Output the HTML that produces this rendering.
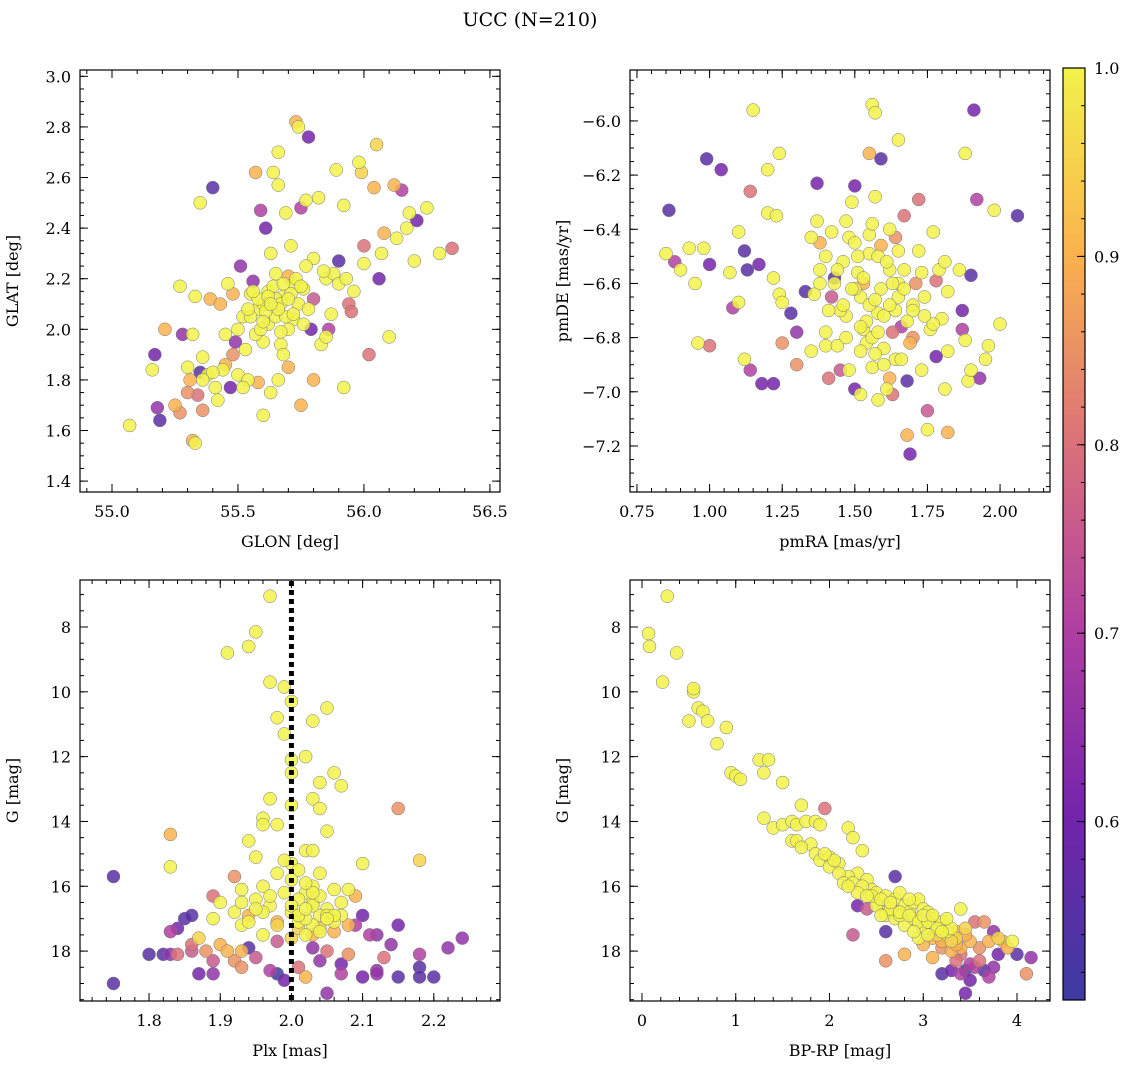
<!DOCTYPE html>
<html><head><meta charset="utf-8">
<style>
html,body{margin:0;padding:0;background:#fff;}
svg{display:block;font-family:"DejaVu Serif","Liberation Serif",serif;}
</style></head>
<body>
<svg id="fig" width="1136" height="1068" viewBox="0 0 1136 1068" xmlns="http://www.w3.org/2000/svg">
<defs>
<linearGradient id="cbg" x1="0" y1="1" x2="0" y2="0">
<stop offset="0" stop-color="#3d3ba0"/>
<stop offset="0.2" stop-color="#7424ab"/>
<stop offset="0.4" stop-color="#b03fa2"/>
<stop offset="0.6" stop-color="#da7279"/>
<stop offset="0.8" stop-color="#fab24e"/>
<stop offset="1" stop-color="#f2f24a"/>
</linearGradient>
</defs>
<text x="530" y="26" font-size="19" text-anchor="middle">UCC (N=210)</text>
</svg>
<script>
// ---- data (x, y, membership probability) ----
const glonVals=[55.07,55.16,55.17,55.18,55.19,55.21,55.25,55.27,55.27,55.28,55.3,55.31,55.32,55.32,55.33,55.33,55.34,55.35,55.35,55.36,55.36,55.38,55.39,55.4,55.41,55.42,55.44,55.45,55.46,55.47,55.48,55.49,55.5,55.51,55.52,55.53,55.54,55.55,55.56,55.57,55.58,55.58,55.59,55.6,55.6,55.61,55.62,55.63,55.64,55.65,55.66,55.66,55.67,55.68,55.69,55.7,55.71,55.72,55.73,55.74,55.75,55.75,55.76,55.77,55.78,55.79,55.8,55.8,55.82,55.83,55.85,55.86,55.87,55.89,55.9,55.92,55.92,55.94,55.98,55.99,56.0,56.0,56.02,56.04,56.05,56.06,56.08,56.1,56.12,56.15,56.17,56.18,56.2,56.21,56.25,56.3,56.35,55.55,55.6,55.65,55.7,55.72,55.68,55.62,55.74,55.57,55.78,55.66,55.7,55.88,55.95,55.43,55.48,55.63,55.52,
55.58,55.61,55.64,55.67,55.69,55.71,55.73,55.76,55.59,55.62,55.66,55.68,55.7,55.72,55.75,55.63,55.6,55.54,55.5,55.56,55.8,55.84,55.9,55.65,55.67,55.4,55.45,55.36,55.3,55.96,56.13,56.07,55.93,55.85,55.77];
const glatVals=[1.62,1.84,1.9,1.69,1.64,2.0,1.7,1.67,2.17,1.98,1.85,1.8,1.98,1.56,2.13,1.55,1.74,2.5,1.83,1.68,1.89,1.82,2.12,2.56,1.77,1.72,1.84,1.98,2.18,1.77,2.14,1.95,1.82,2.25,2.05,1.92,1.8,2.14,2.19,2.62,2.08,1.79,2.47,2.1,1.66,2.4,2.02,2.3,2.62,2.05,2.7,2.57,1.94,2.13,2.46,2.21,2.33,2.04,2.82,2.8,2.48,1.7,2.16,2.51,2.76,2.0,2.28,1.8,2.52,1.94,2.2,2.0,2.06,2.63,2.27,1.77,2.49,2.1,2.66,2.62,2.33,2.26,1.9,2.56,2.73,2.2,2.38,1.97,2.57,2.55,2.4,2.46,2.27,2.43,2.48,2.3,2.32,2.05,1.95,2.12,2.0,2.18,1.9,2.15,2.1,1.98,2.08,1.8,1.85,2.22,2.07,2.1,1.9,1.75,1.77,
2.12,2.07,2.17,2.1,2.05,2.14,2.2,2.02,2.0,2.13,2.08,2.18,2.12,2.06,2.17,2.1,2.03,2.08,2.0,2.15,2.12,2.23,2.18,2.22,1.99,1.83,1.86,1.8,1.75,2.15,2.36,2.3,2.2,1.97,2.25];
const glProb=[1,1,.6,.65,.55,.9,.9,.85,1,.65,1,.9,1,.9,1,1,.8,1,.55,.85,1,1,.9,.55,1,1,1,1,1,.6,.9,.65,1,.65,1,1,1,1,.65,.9,1,.9,.7,1,1,.6,1,1,1,1,1,1,1,1,1,.9,1,1,.9,1,.7,.9,1,1,.6,.6,1,.9,1,1,1,.7,1,1,.55,1,1,.8,1,.95,.8,1,.8,.9,.95,.6,.9,1,.9,.7,1,1,1,.6,1,1,.8,1,1,1,1,1,1,1,1,1,1,1,.9,1,.8,.9,.85,1,1,
1,1,1,1,1,1,1,1,1,1,1,1,1,1,1,1,1,1,1,1,.75,1,1,1,1,1,.9,1,.85,1,1,1,1,1,1];

const pmraVals=[0.86,0.85,0.88,0.9,0.93,0.95,0.96,0.98,0.99,1.0,1.0,1.04,1.07,1.08,1.1,1.1,1.12,1.12,1.13,1.14,1.14,1.15,1.17,1.18,1.2,1.2,1.22,1.22,1.23,1.24,1.24,1.25,1.25,1.28,1.3,1.3,1.33,1.35,1.37,1.37,1.38,1.38,1.4,1.4,1.41,1.42,1.42,1.43,1.44,1.45,1.46,1.47,1.47,1.48,1.49,1.5,1.5,1.51,1.52,1.52,1.53,1.53,1.54,1.55,1.55,1.56,1.56,1.57,1.57,1.58,1.58,1.59,1.59,1.6,1.61,1.62,1.62,1.63,1.63,1.64,1.64,1.65,1.65,1.66,1.67,1.67,1.68,1.68,1.69,1.7,1.7,1.71,1.72,1.73,1.74,1.75,1.75,1.76,1.77,1.78,1.78,1.79,1.8,1.81,1.81,1.82,1.82,1.82,1.86,1.87,1.87,1.88,1.88,1.89,1.9,1.9,1.91,1.92,1.93,1.95,1.96,1.98,2.0,2.06,1.55,1.5,1.6,1.65,1.45,1.58,1.7,1.52,1.66,1.43,1.48,1.62,1.35,1.4,1.72,1.77,
1.53,1.57,1.61,1.49,1.64,1.68,1.56,1.46,1.59,1.63,1.54,1.51,1.58,1.67,1.73,1.44,1.41,1.6,1.55,1.69,1.38,1.47,1.5,1.62,1.57,1.74,1.65,1.36,1.52,1.56];
const pmdeVals=[-6.33,-6.49,-6.52,-6.55,-6.47,-6.6,-6.82,-6.47,-6.14,-6.83,-6.53,-6.18,-6.56,-6.69,-6.41,-6.67,-6.48,-6.88,-6.55,-6.92,-6.26,-5.96,-6.53,-6.97,-6.18,-6.34,-6.97,-6.58,-6.35,-6.12,-6.64,-6.67,-6.82,-6.71,-6.9,-6.78,-6.63,-6.43,-6.23,-6.37,-6.6,-6.45,-6.83,-6.78,-6.95,-6.41,-6.65,-6.58,-6.83,-6.92,-6.52,-6.37,-6.72,-6.43,-6.3,-6.99,-6.24,-6.56,-6.65,-7.01,-6.6,-6.77,-6.82,-6.12,-6.49,-6.91,-5.94,-6.28,-5.97,-6.71,-7.03,-6.14,-6.62,-6.84,-6.99,-6.4,-6.55,-6.78,-7.01,-6.43,-6.88,-6.07,-6.65,-6.76,-6.35,-6.55,-7.16,-6.96,-7.23,-6.68,-6.8,-6.6,-6.29,-6.92,-6.65,-7.14,-7.07,-6.77,-6.41,-6.59,-6.87,-6.55,-6.73,-6.52,-6.99,-7.15,-6.85,-6.63,-6.55,-6.7,-6.77,-6.12,-6.81,-6.96,-6.92,-6.57,-5.96,-6.29,-6.95,-6.88,-6.83,-6.33,-6.75,-6.35,-6.68,-6.62,-6.72,-6.6,-6.7,-6.5,-6.7,-6.85,-6.88,-6.6,-6.92,-6.95,-6.85,-6.5,-6.48,-6.75,
-6.58,-6.66,-6.52,-6.62,-6.7,-6.74,-6.8,-6.68,-6.46,-6.6,-6.74,-6.5,-6.78,-6.62,-6.56,-6.55,-6.7,-6.9,-6.42,-6.82,-6.55,-6.8,-6.45,-6.68,-6.86,-6.72,-6.48,-6.64,-6.76,-6.38];
const pmProb=[.55,1,.7,1,1,1,1,1,.55,.8,.6,.6,1,.7,1,1,.55,1,.55,.7,.8,1,.6,.6,1,1,.6,1,1,1,1,1,.85,.55,.85,.65,.55,1,.6,1,1,.9,1,1,.8,1,.75,.55,1,.75,1,1,1,1,1,.6,.6,1,1,1,.9,1,1,.9,1,1,1,1,1,1,1,.55,1,1,1,1,1,.8,.8,.85,1,1,1,.7,.8,1,.9,.55,.6,1,.85,.85,.8,1,1,1,.75,1,1,.8,.6,1,1,1,1,.9,1,1,1,.6,.7,1,1,1,1,.55,.6,.7,.65,1,1,1,1,.55,1,1,1,1,1,1,1,1,1,1,1,.9,1,1,1,1,
1,1,1,1,1,1,1,1,.9,1,1,1,1,1,1,1,1,1,1,.9,1,1,1,1,1,1,1,1,1,1];

const plxVals=[1.97,1.91,1.94,1.95,1.97,1.99,1.98,2.0,1.99,2.05,2.03,2.0,2.02,2.0,2.04,2.06,2.07,2.03,1.97,2.04,2.0,1.96,1.96,1.98,2.05,1.94,2.02,2.03,1.83,1.83,2.18,2.15,2.1,1.95,2.0,2.01,2.04,1.98,1.92,1.93,1.96,2.06,2.02,2.08,2.09,1.89,1.9,1.95,1.97,2.03,2.05,1.92,1.94,2.0,2.04,2.07,2.01,1.98,1.93,1.89,2.03,2.06,1.96,2.0,2.02,2.1,2.11,2.12,2.14,2.15,1.87,1.84,1.83,1.86,1.86,1.84,1.8,1.82,1.83,1.85,1.87,1.89,1.89,1.88,1.9,1.91,1.92,1.93,1.94,1.95,1.97,1.98,1.98,1.99,2.01,2.02,2.03,2.04,2.05,2.05,2.07,2.07,2.08,2.1,2.12,2.12,2.13,2.15,2.18,2.18,2.18,2.2,2.22,2.24,1.75,1.75,1.86,1.93,2.09,
2.01,2.03,2.05,2.02,2.04,2.06,2.0,1.99,2.03,2.05,2.07,2.01,2.04,2.02,1.98,1.96,2.06,2.08,2.0,2.03,1.95,1.94,2.01,2.05,2.03,1.97,1.99,2.02,2.04,1.93];
const gPlxVals=[7.05,8.8,8.6,8.15,9.7,9.85,10.8,10.3,11.3,10.5,10.9,12.1,12.0,12.5,12.8,12.5,12.9,13.3,13.3,13.6,13.5,13.9,14.1,14.1,14.3,14.6,14.9,14.9,14.4,15.4,15.2,13.6,15.3,15.1,15.3,15.5,15.6,15.6,15.7,16.1,16.0,16.1,16.2,16.1,16.3,16.3,16.5,16.4,16.6,16.5,16.7,16.8,16.9,16.8,16.9,16.9,17.1,17.1,17.2,17.0,17.2,17.4,17.5,17.6,17.5,16.9,17.5,17.5,17.8,17.2,17.6,17.3,17.4,17.8,18.0,18.1,18.1,18.1,18.1,17.0,18.7,18.7,18.3,18.0,17.8,18.0,18.3,18.5,17.9,18.2,18.6,17.7,18.7,18.9,18.5,18.8,17.9,18.3,19.3,18.0,18.4,18.7,18.1,18.8,18.6,18.7,18.2,18.8,18.5,18.8,18.1,18.8,17.9,17.6,15.7,19.0,16.9,18.0,17.2,
16.4,16.6,16.9,17.0,17.3,17.1,16.6,16.2,16.0,17.0,16.5,16.9,16.3,16.7,17.2,16.8,16.9,17.2,15.8,16.2,16.7,17.1,17.3,17.0,17.5,16.3,15.2,15.9,17.4,16.5];
const plxProb=[1,1,1,1,1,1,1,1,1,1,1,1,1,1,1,1,1,1,1,1,1,1,1,1,1,1,1,1,.9,1,.95,.85,1,1,1,1,1,1,.85,1,1,1,1,1,.9,.8,1,1,1,1,1,1,.9,1,1,1,1,.9,1,1,1,.9,1,.95,1,.6,.7,.65,.65,.6,.95,.6,.7,.8,.75,.8,.55,.55,.65,.55,.6,.65,.75,.85,.9,.9,.85,.85,.55,.75,.7,.75,.5,.6,.8,.9,.65,.65,.65,.8,.6,.7,.85,.6,.65,.65,.8,.55,.55,.55,.7,.55,.65,.65,.55,.55,.55,.9,.7,
1,1,1,1,.95,1,1,1,1,1,1,1,1,1,.95,1,1,.9,1,1,1,1,.95,1,.9,1,1,1,1,1];

const bprpVals=[0.07,0.08,0.27,0.37,0.22,0.5,0.55,0.55,0.6,0.65,0.7,0.8,0.9,0.95,1.0,1.05,1.25,1.3,1.35,1.5,1.3,1.4,1.5,1.6,1.6,1.65,1.7,1.75,1.8,1.85,1.9,1.95,1.65,1.7,1.85,1.9,2.0,2.0,2.1,2.2,2.25,2.35,2.3,2.2,2.4,2.45,2.5,2.55,2.6,2.65,2.7,2.75,2.8,2.85,2.9,2.95,3.0,3.05,3.1,3.15,3.2,3.25,3.3,3.35,2.5,2.6,2.7,2.8,2.9,3.0,3.1,3.2,3.4,3.5,2.4,2.3,2.25,2.6,2.7,3.4,3.55,3.65,3.7,3.75,3.8,3.85,3.9,3.95,4.0,4.15,4.1,3.8,3.75,3.7,3.65,3.6,3.55,3.5,3.45,3.45,3.4,3.4,3.35,3.3,3.2,3.1,3.3,3.2,2.8,2.6,3.5,3.6,3.0,2.95,3.15,3.45,3.25,2.75,
2.1,2.15,2.25,2.35,2.45,2.55,2.65,2.75,2.85,2.95,3.05,3.15,3.25,3.35,2.55,2.65,2.85,3.0,3.1,3.2,3.3,2.05,1.95,2.3,2.4,2.9,3.05,3.35,3.45,2.2];
const gCmdVals=[8.2,8.6,7.05,8.8,9.7,10.9,10.0,9.9,10.5,10.6,10.9,11.6,11.1,12.5,12.6,12.7,12.1,12.5,12.1,12.8,13.9,14.2,14.1,14.0,14.6,14.1,13.5,14.0,14.7,14.0,14.1,13.6,14.6,14.8,15.0,15.2,15.1,15.4,15.3,14.2,14.5,14.9,15.6,15.7,15.8,16.1,16.2,16.5,16.3,16.6,16.4,16.2,16.6,16.8,16.5,16.4,16.7,16.8,17.0,17.2,17.1,17.4,17.3,17.6,16.6,16.9,17.0,17.2,17.0,17.3,17.6,17.7,17.9,17.7,16.7,16.6,17.5,17.4,15.7,16.7,17.1,17.1,17.7,17.4,17.6,17.7,17.9,17.7,18.1,18.2,18.7,18.1,18.5,18.8,18.6,18.3,18.5,18.9,19.3,18.6,18.7,18.1,18.3,18.6,18.7,18.2,18.0,17.9,18.1,18.3,18.4,17.9,17.8,17.6,17.5,17.3,17.0,16.9,
15.6,15.9,15.9,16.0,16.3,16.4,16.7,16.8,16.9,17.1,17.1,17.3,17.5,17.4,16.9,16.5,16.4,16.9,16.9,17.4,17.7,15.2,15.0,16.2,16.3,17.4,17.5,17.8,17.5,16.0];
const cmdProb=[1,1,1,1,1,1,1,1,1,1,1,1,1,1,1,1,1,1,1,1,1,1,1,1,1,1,1,1,1,1,1,.8,1,1,1,1,1,1,1,1,1,1,1,1,1,1,1,1,1,1,1,1,1,1,1,1,1,1,1,1,1,1,1,.95,1,1,1,1,1,1,.9,.9,.9,.9,.75,.6,.75,.55,.55,1,.8,.85,.9,.65,.95,.9,.9,1,.55,.65,.85,.6,.65,.7,.55,.8,.7,.6,.6,.55,.7,.8,.8,.6,.55,.9,.9,.85,.9,.85,.7,.85,.9,1,.95,.95,1,1,
1,1,1,1,1,1,1,1,1,1,1,1,.95,.9,1,1,1,1,1,1,.95,1,1,1,1,1,1,.9,.9,1];

// tick labels
const tlXTicks=[55.0,55.5,56.0,56.5];
const tlYTicks=[1.4,1.6,1.8,2.0,2.2,2.4,2.6,2.8,3.0];
const trXTicks=[0.75,1.00,1.25,1.50,1.75,2.00];
const trYTicks=[-7.2,-7.0,-6.8,-6.6,-6.4,-6.2,-6.0];
const blXTicks=[1.8,1.9,2.0,2.1,2.2];
const gTicks=[8,10,12,14,16,18];
const brXTicks=[0,1,2,3,4];
const cbTicks=[0.6,0.7,0.8,0.9,1.0];
const plxMedian=[2.0];

const NS="http://www.w3.org/2000/svg";
const svg=document.getElementById('fig');
function mk(tag,attrs,parent){const e=document.createElementNS(NS,tag);for(const k in attrs)e.setAttribute(k,attrs[k]);(parent||svg).appendChild(e);return e;}

const stops=[[0.5,[61,59,160]],[0.6,[116,36,171]],[0.7,[176,63,162]],[0.8,[218,114,121]],[0.9,[250,178,78]],[1.0,[242,242,74]]];
function cmap(v){v=Math.max(0.5,Math.min(1,v));for(let i=0;i<stops.length-1;i++){const a=stops[i],b=stops[i+1];if(v<=b[0]){const t=(v-a[0])/(b[0]-a[0]);const c=a[1].map((x,j)=>Math.round(x+(b[1][j]-x)*t));return `rgb(${c[0]},${c[1]},${c[2]})`;}}return 'rgb(242,242,74)';}
function fmt(v,d){return v<0?'\u2212'+Math.abs(v).toFixed(d):v.toFixed(d);}

function panel(name,box,xr,yr,xt,yt,xd,yd,xlabel,ylabel,xs,ys,ps,invY){
  const [L,T,R,B]=box;
  const g=mk('g',{});
  
  
  const sx=v=>L+(v-xr[0])/(xr[1]-xr[0])*(R-L);
  const sy=invY?(v=>T+(v-yr[0])/(yr[1]-yr[0])*(B-T)):(v=>B-(v-yr[0])/(yr[1]-yr[0])*(B-T));
  const clip=mk('clipPath',{id:'c'+name},g);
  mk('rect',{x:L,y:T,width:R-L,height:B-T},clip);
  const pts=mk('g',{'clip-path':'url(#c'+name+')'},g);
  
  
  const idx=xs.map((_,i)=>i).sort((a,b)=>ps[a]-ps[b]);
  idx.forEach(i=>{
    const c=mk('circle',{cx:sx(xs[i]),cy:sy(ys[i]),r:6.5,fill:cmap(ps[i]),'fill-opacity':0.85,stroke:'#777','stroke-width':0.5},pts);
    
    
  });
  const frame=mk('rect',{x:L,y:T,width:R-L,height:B-T,fill:'none',stroke:'#000','stroke-width':1.2},g);
  
  
  const xstep=xt[1]-xt[0], ystep=yt[1]-yt[0];
  const xm=xstep/5, ym=ystep/4;
  for(let v=xt[0]-xstep;v<=xt[xt.length-1]+xstep+1e-9;v+=xm){const p=sx(v);if(p<L||p>R)continue;mk('line',{x1:p,x2:p,y1:B,y2:B-4,stroke:'#000'},g);mk('line',{x1:p,x2:p,y1:T,y2:T+4,stroke:'#000'},g);}
  for(let v=yt[0]-ystep;v<=yt[yt.length-1]+ystep+1e-9;v+=ym){const p=sy(v);if(p<T||p>B)continue;mk('line',{x1:L,x2:L+4,y1:p,y2:p,stroke:'#000'},g);mk('line',{x1:R,x2:R-4,y1:p,y2:p,stroke:'#000'},g);}
  xt.forEach(v=>{const p=sx(v);mk('line',{x1:p,x2:p,y1:B,y2:B-8,stroke:'#000'},g);mk('line',{x1:p,x2:p,y1:T,y2:T+8,stroke:'#000'},g);
    const t=mk('text',{x:p,y:B+25,'font-size':16,'text-anchor':'middle'},g);t.textContent=fmt(v,xd);
    
    });
  yt.forEach(v=>{const p=sy(v);mk('line',{x1:L,x2:L+8,y1:p,y2:p,stroke:'#000'},g);mk('line',{x1:R,x2:R-8,y1:p,y2:p,stroke:'#000'},g);
    const t=mk('text',{x:L-9,y:p+6,'font-size':16,'text-anchor':'end'},g);t.textContent=fmt(v,yd);
    
    });
  const xl=mk('text',{x:(L+R)/2,y:B+55,'font-size':16,'text-anchor':'middle'},g);xl.textContent=xlabel;
  
  
  const yx=L-62;
  const yl=mk('text',{x:yx,y:(T+B)/2,'font-size':16,'text-anchor':'middle',transform:`rotate(-90 ${yx} ${(T+B)/2})`},g);yl.textContent=ylabel;
  
  
  return {sx,sy,g};
}

panel('glon-glat-panel',[80,70,500,492],[54.873,56.54],[1.357,3.025],tlXTicks,tlYTicks,1,1,'GLON [deg]','GLAT [deg]',glonVals,glatVals,glProb,false);
panel('pm-panel',[630,70,1050,492],[0.726,2.172],[-7.370,-5.812],trXTicks,trYTicks,2,1,'pmRA [mas/yr]','pmDE [mas/yr]',pmraVals,pmdeVals,pmProb,false);
const bl=panel('plx-g-panel',[80,580,500,1001],[1.703,2.293],[6.55,19.54],blXTicks,gTicks,1,0,'Plx [mas]','G [mag]',plxVals,gPlxVals,plxProb,true);
const ml=mk('line',{x1:bl.sx(plxMedian[0]),x2:bl.sx(plxMedian[0]),y1:581,y2:1000,stroke:'#000','stroke-width':5,'stroke-dasharray':'5 4'},bl.g);


panel('cmd-panel',[630,580,1050,1001],[-0.128,4.352],[6.55,19.54],brXTicks,gTicks,0,0,'BP-RP [mag]','G [mag]',bprpVals,gCmdVals,cmdProb,true);

// colorbar
const cb=mk('g',{});


const cT=68,cB=1000,cL=1063,cR=1085,cmin=0.5053,cmax=1.0;
const cy=v=>cB-(v-cmin)/(cmax-cmin)*(cB-cT);
mk('rect',{x:cL,y:cT,width:cR-cL,height:cB-cT,fill:'url(#cbg)',stroke:'#000','stroke-width':1.2},cb);
for(let v=0.52;v<=1.0001;v+=0.02){mk('line',{x1:cR,x2:cR-4,y1:cy(v),y2:cy(v),stroke:'#000'},cb);}
cbTicks.forEach(v=>{const p=cy(v);mk('line',{x1:cR,x2:cR-8,y1:p,y2:p,stroke:'#000'},cb);
  const t=mk('text',{x:cR+9,y:p+6,'font-size':16},cb);t.textContent=v.toFixed(1);
  
  });
</script>
</body></html>
